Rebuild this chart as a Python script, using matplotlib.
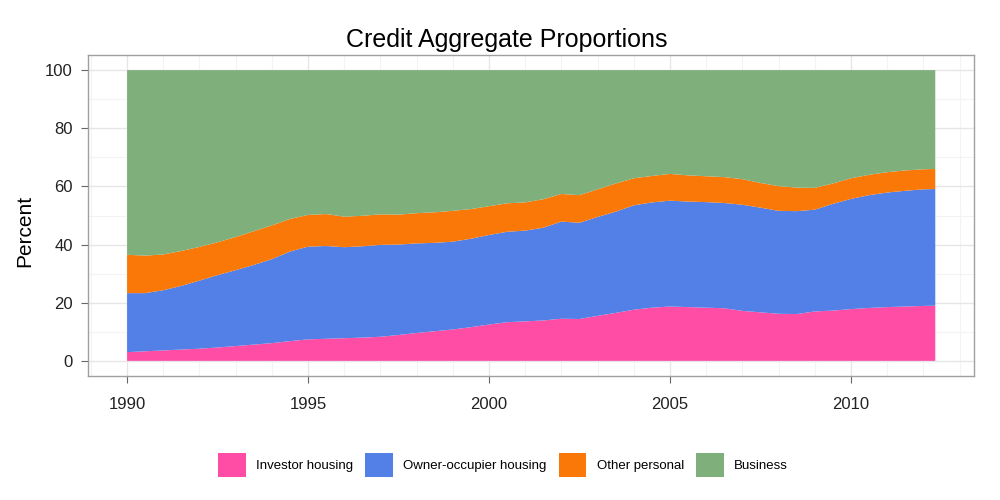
import matplotlib
matplotlib.use('Agg')
import matplotlib.pyplot as plt
from matplotlib.patches import Patch
from matplotlib.ticker import MultipleLocator

plt.rcParams['font.family'] = ['Liberation Sans', 'DejaVu Sans']

# half-yearly readings, percent of total credit
years = [1990.0, 1990.5, 1991.0, 1991.5, 1992.0, 1992.5, 1993.0, 1993.5, 1994.0, 1994.5,
         1995.0, 1995.5, 1996.0, 1996.5, 1997.0, 1997.5, 1998.0, 1998.5, 1999.0, 1999.5,
         2000.0, 2000.5, 2001.0, 2001.5, 2002.0, 2002.5, 2003.0, 2003.5, 2004.0, 2004.5,
         2005.0, 2005.5, 2006.0, 2006.5, 2007.0, 2007.5, 2008.0, 2008.5, 2009.0, 2009.5,
         2010.0, 2010.5, 2011.0, 2011.5, 2012.0, 2012.33]
investor = [3.0, 3.3, 3.6, 3.9, 4.2, 4.6, 5.1, 5.6, 6.1, 6.8,
            7.4, 7.6, 7.8, 8.0, 8.3, 8.9, 9.6, 10.2, 10.8, 11.6,
            12.5, 13.3, 13.6, 13.9, 14.5, 14.4, 15.5, 16.5, 17.6, 18.3,
            18.7, 18.5, 18.3, 18.1, 17.2, 16.7, 16.2, 16.1, 17.0, 17.3,
            17.8, 18.2, 18.5, 18.7, 18.9, 19.0]
owner_occ = [20.3, 20.0, 20.7, 21.9, 23.4, 24.9, 26.1, 27.4, 28.9, 30.8,
             31.9, 31.9, 31.3, 31.4, 31.6, 31.1, 30.8, 30.4, 30.2, 30.4,
             30.8, 31.1, 31.2, 31.9, 33.4, 33.1, 34.0, 34.8, 35.9, 36.2,
             36.4, 36.3, 36.3, 36.2, 36.5, 36.0, 35.4, 35.4, 35.0, 36.7,
             37.9, 38.8, 39.4, 39.8, 40.1, 40.1]
other_personal = [13.2, 12.9, 12.3, 12.0, 11.6, 11.3, 11.4, 11.6, 11.6, 11.2,
                  10.9, 11.0, 10.5, 10.5, 10.5, 10.3, 10.4, 10.5, 10.6, 10.2,
                  9.9, 9.8, 9.7, 9.8, 9.5, 9.5, 9.5, 9.7, 9.3, 9.1,
                  9.2, 9.0, 8.9, 8.9, 8.8, 8.5, 8.5, 8.1, 7.5, 7.0,
                  7.1, 7.0, 7.0, 7.0, 6.9, 6.9]
business = [100 - a - b - c for a, b, c in zip(investor, owner_occ, other_personal)]

labels = ['Investor housing', 'Owner-occupier housing', 'Other personal', 'Business']
colors = ['#FF4DA5', '#5280E6', '#F97808', '#7FAF7B']

fig = plt.figure(figsize=(10, 5), dpi=100)
ax = fig.add_axes([0.088, 0.248, 0.886, 0.642])

ax.stackplot(years, investor, owner_occ, other_personal, business,
             colors=colors, linewidth=0, zorder=2)

ax.set_xlim(1988.92, 2013.4)
ax.set_ylim(-5.2, 105.2)
ax.xaxis.set_major_locator(MultipleLocator(5))
ax.xaxis.set_minor_locator(MultipleLocator(1))
ax.yaxis.set_major_locator(MultipleLocator(20))
ax.yaxis.set_minor_locator(MultipleLocator(10))
ax.grid(which='major', color='#E6E6E6', linewidth=1.0, zorder=0)
ax.grid(which='minor', color='#F3F3F3', linewidth=0.8, zorder=0)
ax.set_axisbelow(True)

for s in ax.spines.values():
    s.set_color('#A0A0A0')
    s.set_linewidth(1.0)
ax.tick_params(which='major', direction='out', length=5, color='#666666',
               labelsize=12, labelcolor='#222222', pad=6)
ax.tick_params(axis='x', which='major', pad=10)
ax.tick_params(which='minor', length=0)

ax.set_ylabel('Percent', fontsize=15)
ax.yaxis.set_label_coords(-0.061, 0.452)
fig.text(0.507, 0.905, 'Credit Aggregate Proportions', fontsize=18,
         ha='center', va='baseline')

handles = [Patch(facecolor=c, edgecolor='none') for c in colors]
fig.legend(handles, labels, loc='center', bbox_to_anchor=(0.503, 0.07), ncol=4,
           frameon=False, fontsize=9.5, handlelength=2.1, handleheight=2.4,
           handletextpad=0.8, columnspacing=0.9)

fig.savefig('out.png', dpi=100)
